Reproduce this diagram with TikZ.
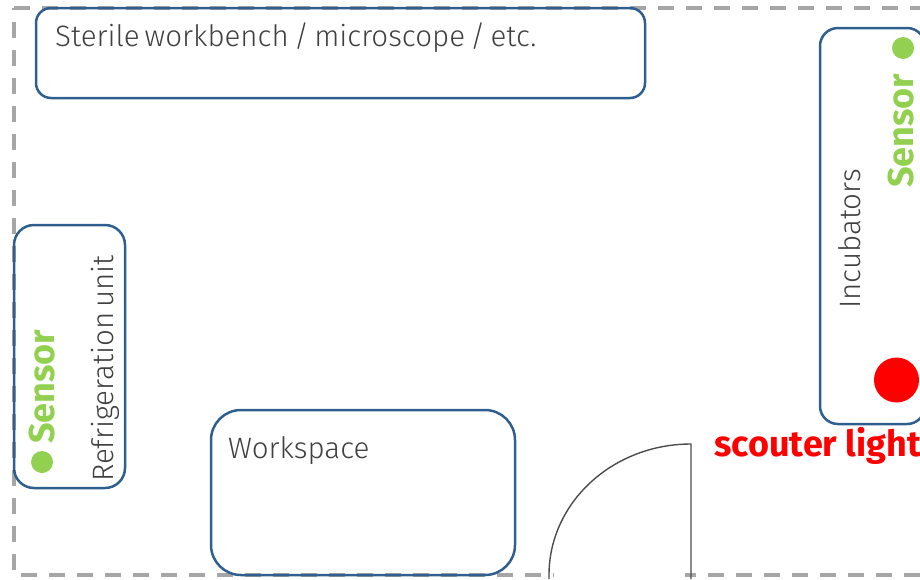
\documentclass[tikz,border=0pt]{standalone}
\usepackage{fontspec}
\setmainfont{Fira Sans}
\newfontfamily\lightf[WordSpace=0.62]{Fira Sans Light}
\newfontfamily\boldf{Fira Sans Bold}
\definecolor{boxblue}{HTML}{2F5F8F}
\definecolor{txtgray}{HTML}{404040}
\definecolor{dashgray}{HTML}{A6A6A6}
\definecolor{sensorgreen}{HTML}{92D050}
\tikzset{
  room/.style={draw=boxblue,line width=2.5pt,fill=none,rounded corners=#1,inner sep=0pt,outer sep=0pt},
  wall/.style={draw=dashgray,line width=3.2pt,dash pattern=on 16pt off 12pt},
  lbl/.style={text=txtgray,font=\lightf\fontsize{29.5}{29.5}\selectfont,inner sep=0pt},
  sens/.style={text=sensorgreen,font=\boldf\fontsize{36}{36}\selectfont,inner sep=0pt},
  dot/.style={circle,inner sep=0pt,fill=#1},
  door/.style={draw=black!70,line width=1.4pt}
}
\begin{document}
\begin{tikzpicture}[x=1pt,y=-1pt]
\useasboundingbox (0,0) rectangle (920,579);
\clip (0,0) rectangle (920,579);
\coordinate (tl) at (14,8);
\coordinate (tr) at (930,8);
\coordinate (bl) at (14,575);
\coordinate (g1) at (554,575);
\coordinate (g2) at (685,575);
\coordinate (br) at (930,575);
\draw[wall] (tl) -- (tr);
\draw[wall,dash phase=14pt] (tl) -- (bl);
\draw[wall,dash phase=21pt] (bl) -- (g1);
\draw[wall,dash phase=5pt] (g2) -- (br);
\node[room=15pt,minimum width=609pt,minimum height=90pt] (bench) at (340.5,53) {};
\node[room=20pt,minimum width=111pt,minimum height=263pt] (fridge) at (69.5,356.5) {};
\node[room=30pt,minimum width=304pt,minimum height=165pt] (work) at (363,492.5) {};
\node[room=18pt,minimum width=105pt,minimum height=396pt] (incub) at (872.5,226) {};
\node[lbl,anchor=base west] (benchtxt) at (55,46) {Sterile workbench / microscope / etc.};
\node[lbl,anchor=base west] (worktxt) at (228,458) {Workspace};
\node[lbl,rotate=90,anchor=base west] (fridgetxt) at (113,482) {Refrigeration unit};
\node[lbl,rotate=90,anchor=base west] (incubtxt) at (860,309) {Incubators};
\node[sens,rotate=90,anchor=base west] (s1) at (54.5,444) {Sensor};
\node[sens,rotate=90,anchor=base west] (s2) at (913.5,188) {Sensor};
\node[dot=sensorgreen,minimum size=22pt] (d1) at (42,462) {};
\node[dot=sensorgreen,minimum size=22pt] (d2) at (903,48) {};
\node[dot=red,minimum size=45pt] (light) at (896.5,380) {};
\node[anchor=base west,text=red,font=\boldf\fontsize{36}{36}\selectfont,inner sep=0pt] (lighttxt) at (714,456) {scouter light};
\coordinate (d0) at (691,579);
\coordinate (d3) at (691,444);
\coordinate (d4) at (549,579);
\draw[door] (d4) -- ++(0,-4) arc[start angle=180,end angle=90,x radius=142pt,y radius=131pt] -- (d0);
\end{tikzpicture}
\end{document}
